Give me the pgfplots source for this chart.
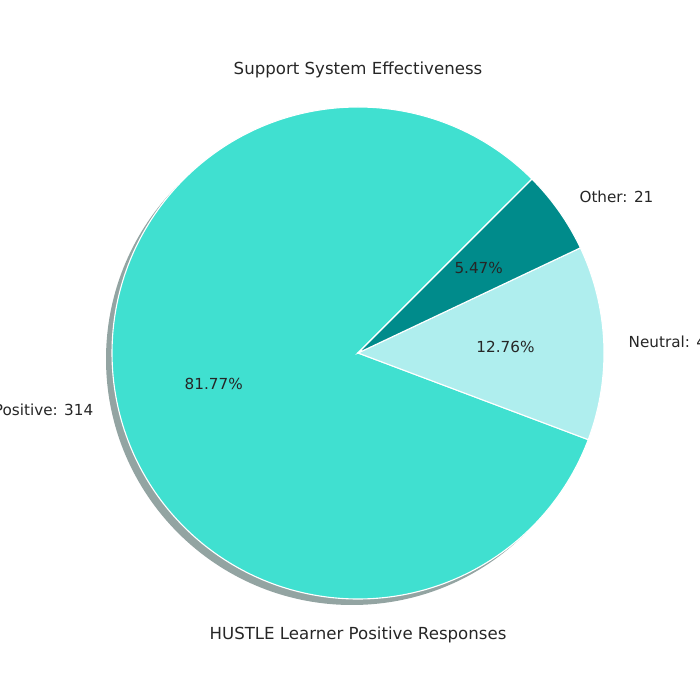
\documentclass[border=0pt]{standalone}
\usepackage{pgfplots}
\pgfplotsset{compat=1.18}
\usepackage{fontspec}
\setmainfont{DejaVu Sans}
\definecolor{c1}{HTML}{40E0D0}
\definecolor{c2}{HTML}{AFEEEE}
\definecolor{c3}{HTML}{008B8B}
\definecolor{shad}{HTML}{6F8583}
\begin{document}
\begin{tikzpicture}
\begin{axis}[scale only axis, width=7in, height=7in, hide axis, clip=false,
  xmin=-1.4553, xmax=1.3902, ymin=-1.4106, ymax=1.4350]
% shadow
\fill[shad, opacity=0.75] ([xshift=-0.06in,yshift=-0.06in]axis cs:0,0) circle[radius=2.46in];
% wedges: values 314, 49, 21 (total 384)
\pgfmathsetmacro{\tot}{314+49+21}
\pgfmathsetmacro{\aA}{45}
\pgfmathsetmacro{\aB}{45+360*(314/\tot)}
\pgfmathsetmacro{\aC}{\aB+360*(49/\tot)}
\pgfmathsetmacro{\aD}{\aC+360*(21/\tot)}
\fill[c1, draw=white, line width=0.8pt] (axis cs:0,0) -- ++(\aA:2.46in) arc[start angle=\aA, end angle=\aB, radius=2.46in] -- cycle;
\fill[c2, draw=white, line width=0.8pt] (axis cs:0,0) -- ++(\aB:2.46in) arc[start angle=\aB, end angle=\aC, radius=2.46in] -- cycle;
\fill[c3, draw=white, line width=0.8pt] (axis cs:0,0) -- ++(\aC:2.46in) arc[start angle=\aC, end angle=\aD, radius=2.46in] -- cycle;
\pgfmathsetmacro{\mA}{(\aA+\aB)/2}
\pgfmathsetmacro{\mB}{(\aB+\aC)/2}
\pgfmathsetmacro{\mC}{(\aC+\aD)/2}
\node[font=\fontsize{11}{13}\selectfont, text=black!85] at ([shift={(\mA:1.476in)}]axis cs:0,0) {81.77\%};
\node[font=\fontsize{11}{13}\selectfont, text=black!85] at ([shift={(\mB:1.476in)}]axis cs:0,0) {12.76\%};
\node[font=\fontsize{11}{13}\selectfont, text=black!85] at ([shift={(\mC:1.476in)}]axis cs:0,0) {5.47\%};
\node[anchor=east, inner sep=0, font=\fontsize{11}{13}\selectfont, text=black!85] at ([shift={(\mA:2.706in)}]axis cs:0,0) {Positive: 314};
\node[anchor=west, inner sep=0, font=\fontsize{11}{13}\selectfont, text=black!85] at ([shift={(\mB:2.706in)}]axis cs:0,0) {Neutral: 49};
\node[anchor=west, inner sep=0, font=\fontsize{11}{13}\selectfont, text=black!85] at ([shift={(\mC:2.706in)}]axis cs:0,0) {Other: 21};
\node[font=\fontsize{12}{14}\selectfont, text=black!85] at (axis cs:0,1.150) {Support System Effectiveness};
\node[font=\fontsize{12}{14}\selectfont, text=black!85] at (axis cs:0,-1.146) {HUSTLE Learner Positive Responses};
\end{axis}
\pgfresetboundingbox
\path[use as bounding box] (0,0) rectangle (7in,7in);
\end{tikzpicture}
\end{document}
